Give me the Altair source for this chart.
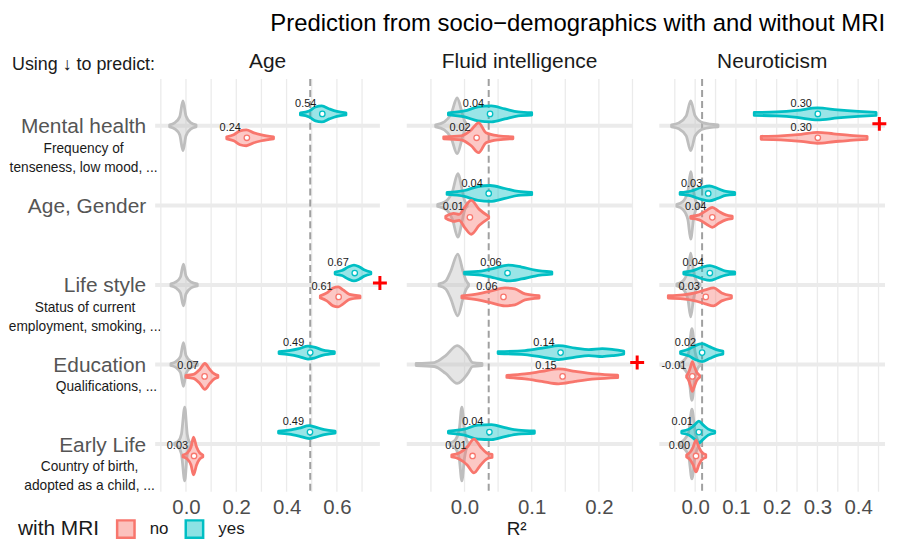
import altair as alt
import pandas as pd

# ---------------- data ----------------
PANELS = ["Age", "Fluid intelligence", "Neuroticism"]
ROWS = ["Mental health", "Age, Gender", "Life style", "Education", "Early Life"]
SUBTITLES = {
    "Mental health": "Frequency of\ntenseness, low mood, ...",
    "Life style": "Status of current\nemployment, smoking, ...",
    "Education": "Qualifications, ...",
    "Early Life": "Country of birth,\nadopted as a child, ...",
}
GROUPS = ["null", "yes", "no"]
GROUP_COLORS = ["#BEBEBE", "#00BFC4", "#F8766D"]
MRI_LEVELS = ["no", "yes"]

# violin profiles: (R2 values, half-height of the violin in px)
AGE_VIOLINS = {
    ("Mental health", "null"): ([-0.065, -0.045, -0.025, -0.012, 0.0, 0.02, 0.04], [1, 3, 9, 25, 10, 3, 1]),
    ("Mental health", "yes"): ([0.455, 0.49, 0.515, 0.54, 0.57, 0.60, 0.636], [1, 3, 7, 8, 5, 2.5, 1]),
    ("Mental health", "no"): ([0.162, 0.19, 0.215, 0.24, 0.27, 0.30, 0.348], [1, 3, 7, 8, 5, 3, 1]),
    ("Life style", "null"): ([-0.06, -0.04, -0.022, -0.01, 0.0, 0.02, 0.045], [1, 3, 8, 21, 9, 3, 1]),
    ("Life style", "yes"): ([0.593, 0.62, 0.645, 0.668, 0.69, 0.71, 0.735], [1, 2.5, 6, 8, 6, 3, 1]),
    ("Life style", "no"): ([0.534, 0.56, 0.585, 0.605, 0.625, 0.65, 0.692], [1, 4, 9, 10, 7, 2.5, 1]),
    ("Education", "null"): ([-0.06, -0.04, -0.022, -0.01, 0.0, 0.02, 0.045], [1, 3, 8, 22, 9, 3, 1]),
    ("Education", "yes"): ([0.37, 0.41, 0.45, 0.485, 0.51, 0.545, 0.59], [1, 2, 4, 6.5, 5.5, 2.5, 1]),
    ("Education", "no"): ([0.0, 0.03, 0.055, 0.075, 0.095, 0.11, 0.127], [1, 2, 7, 13, 7, 3, 1]),
    ("Early Life", "null"): ([-0.045, -0.03, -0.018, -0.005, 0.005, 0.012, 0.02], [1, 3, 10, 37, 10, 3, 1]),
    ("Early Life", "yes"): ([0.368, 0.41, 0.45, 0.49, 0.515, 0.55, 0.593], [1, 2, 4, 6.5, 5, 2.5, 1]),
    ("Early Life", "no"): ([-0.012, 0.005, 0.02, 0.03, 0.042, 0.055, 0.067], [1, 3, 9, 19, 9, 3, 1]),
}
FLUID_VIOLINS = {
    ("Mental health", "null"): ([-0.043, -0.03, -0.02, -0.011, -0.004, 0.0, 0.004], [1, 4, 12, 28, 14, 5, 1]),
    ("Mental health", "yes"): ([-0.024, 0.0, 0.02, 0.04, 0.06, 0.08, 0.10], [1, 3, 7, 8, 5, 2, 1.2]),
    ("Mental health", "no"): ([-0.031, -0.005, 0.01, 0.021, 0.032, 0.05, 0.072], [1, 2, 8, 15, 5, 2, 1]),
    ("Age, Gender", "null"): ([-0.04, -0.028, -0.018, -0.01, -0.003, 0.0, 0.004], [1, 4, 14, 32, 14, 5, 1]),
    ("Age, Gender", "yes"): ([-0.026, 0.0, 0.02, 0.038, 0.06, 0.08, 0.10], [1, 3, 7, 8, 5, 2, 1.2]),
    ("Age, Gender", "no"): ([-0.028, -0.016, -0.008, 0.0, 0.01, 0.022, 0.036], [1, 4, 3, 10, 17, 8, 1]),
    ("Life style", "null"): ([-0.038, -0.028, -0.021, -0.01, -0.002, 0.002, 0.006], [1, 4, 13, 31, 13, 5, 1]),
    ("Life style", "yes"): ([0.0, 0.025, 0.045, 0.065, 0.085, 0.105, 0.13], [1, 2, 5, 8, 6, 3, 1.2]),
    ("Life style", "no"): ([-0.004, 0.02, 0.04, 0.06, 0.075, 0.09, 0.111], [1, 3, 6, 9, 8, 3, 1.2]),
    ("Education", "null"): ([-0.072, -0.045, -0.028, -0.011, 0.005, 0.012, 0.026], [1, 2, 9, 19, 9, 2, 1]),
    ("Education", "yes"): ([0.05, 0.09, 0.12, 0.14, 0.165, 0.185, 0.205, 0.222, 0.237], [1, 2, 5, 7, 4.5, 3, 4, 3, 1.5]),
    ("Education", "no"): ([0.063, 0.09, 0.115, 0.14, 0.165, 0.195, 0.228], [1, 2.5, 5, 7.5, 5, 2.5, 1.2]),
    ("Early Life", "null"): ([-0.022, -0.014, -0.008, -0.004, 0.0, 0.003, 0.006], [1, 4, 14, 37, 14, 4, 1]),
    ("Early Life", "yes"): ([-0.024, 0.0, 0.02, 0.04, 0.06, 0.08, 0.104], [1, 3, 7, 7.5, 4.5, 2, 1.2]),
    ("Early Life", "no"): ([-0.019, -0.008, 0.004, 0.014, 0.024, 0.033, 0.041], [1, 3, 9, 17, 9, 3, 1.5]),
}
NEURO_VIOLINS = {
    ("Mental health", "null"): ([-0.058, -0.04, -0.022, -0.011, 0.0, 0.02, 0.056], [1, 3, 10, 25, 10, 3, 1]),
    ("Mental health", "yes"): ([0.145, 0.20, 0.25, 0.30, 0.35, 0.40, 0.444], [1.5, 2, 3.5, 6, 4, 2.5, 1.5]),
    ("Mental health", "no"): ([0.162, 0.21, 0.26, 0.30, 0.34, 0.38, 0.422], [1.5, 2, 3.5, 5.5, 4, 2.5, 1.5]),
    ("Age, Gender", "null"): ([-0.045, -0.03, -0.018, -0.011, -0.004, 0.002, 0.01], [1, 4, 14, 34, 14, 4, 1]),
    ("Age, Gender", "yes"): ([-0.037, -0.01, 0.015, 0.035, 0.055, 0.075, 0.097], [1, 2.5, 6, 7.5, 5, 2, 1.2]),
    ("Age, Gender", "no"): ([-0.011, 0.01, 0.028, 0.042, 0.058, 0.075, 0.091], [1, 2.5, 7, 10, 6, 2.5, 1.2]),
    ("Life style", "null"): ([-0.045, -0.03, -0.018, -0.011, -0.004, 0.003, 0.012], [1, 4, 14, 32, 14, 4, 1]),
    ("Life style", "yes"): ([-0.028, -0.005, 0.018, 0.036, 0.055, 0.075, 0.097], [1, 2.5, 6, 7.5, 5, 2, 1.2]),
    ("Life style", "no"): ([-0.066, -0.03, 0.0, 0.025, 0.045, 0.065, 0.089], [1.2, 2, 4, 7, 9, 4, 1.2]),
    ("Education", "null"): ([-0.04, -0.028, -0.016, -0.008, 0.0, 0.006, 0.012], [1, 4, 12, 36, 12, 4, 1]),
    ("Education", "yes"): ([-0.036, -0.015, 0.0, 0.017, 0.035, 0.052, 0.068], [1, 3.5, 7, 9, 6, 3, 1.5]),
    ("Education", "no"): ([-0.021, -0.016, -0.011, -0.007, -0.002, 0.004, 0.011], [1, 4, 10, 15, 10, 4, 1]),
    ("Early Life", "null"): ([-0.04, -0.028, -0.016, -0.008, 0.0, 0.006, 0.012], [1, 4, 12, 35, 12, 4, 1]),
    ("Early Life", "yes"): ([-0.033, -0.015, -0.002, 0.009, 0.02, 0.032, 0.048], [1, 3, 7, 11, 7, 3, 1]),
    ("Early Life", "no"): ([-0.021, -0.012, -0.005, 0.002, 0.009, 0.016, 0.026], [1, 4, 9, 16, 9, 4, 1.5]),
}

AGE_MEDIANS = {
    ("Mental health", "yes"): 0.542, ("Mental health", "no"): 0.242,
    ("Life style", "yes"): 0.671, ("Life style", "no"): 0.607,
    ("Education", "yes"): 0.494, ("Education", "no"): 0.074,
    ("Early Life", "yes"): 0.493, ("Early Life", "no"): 0.032,
}
FLUID_MEDIANS = {
    ("Mental health", "yes"): 0.038, ("Mental health", "no"): 0.018,
    ("Age, Gender", "yes"): 0.036, ("Age, Gender", "no"): 0.008,
    ("Life style", "yes"): 0.064, ("Life style", "no"): 0.058,
    ("Education", "yes"): 0.143, ("Education", "no"): 0.146,
    ("Early Life", "yes"): 0.037, ("Early Life", "no"): 0.012,
}
NEURO_MEDIANS = {
    ("Mental health", "yes"): 0.301, ("Mental health", "no"): 0.301,
    ("Age, Gender", "yes"): 0.032, ("Age, Gender", "no"): 0.042,
    ("Life style", "yes"): 0.036, ("Life style", "no"): 0.026,
    ("Education", "yes"): 0.017, ("Education", "no"): -0.007,
    ("Early Life", "yes"): 0.009, ("Early Life", "no"): 0.002,
}

MRI_ONLY = {"Age": 0.494, "Fluid intelligence": 0.036, "Neuroticism": 0.017}
FLAGGED = {"Age": "Life style", "Fluid intelligence": "Education", "Neuroticism": "Mental health"}
FLAG_X = {"Age": 0.771, "Fluid intelligence": 0.257, "Neuroticism": 0.452}
X_DOMAINS = {"Age": [-0.1225, 0.771], "Fluid intelligence": [-0.086, 0.25], "Neuroticism": [-0.088, 0.466]}
GRID = {
    "Age": [-0.1, 0.0, 0.1, 0.2, 0.3, 0.4, 0.5, 0.6, 0.7],
    "Fluid intelligence": [-0.05, 0.0, 0.05, 0.1, 0.15, 0.2, 0.25],
    "Neuroticism": [-0.05, 0.0, 0.05, 0.1, 0.15, 0.2, 0.25, 0.3, 0.35, 0.4, 0.45],
}
TICKS = {
    "Age": [0.0, 0.2, 0.4, 0.6],
    "Fluid intelligence": [0.0, 0.1, 0.2],
    "Neuroticism": [0.0, 0.1, 0.2, 0.3, 0.4],
}
TITLE = "Prediction from socio\u2212demographics with and without MRI"

# ---------------- layout ----------------
PANEL_W = {"Age": 226, "Fluid intelligence": 227, "Neuroticism": 227}
LABEL_W = 121
SPACING = 27
H = 415
Y_DOMAIN = [-0.5875, 4.6]
PX_PER_ROW = 80.0
OFFSET = {"null": 0.0, "yes": -0.15, "no": 0.15}
SUB_X = {"Mental health": 76, "Life style": 77.5, "Education": 99, "Early Life": 82}
LEGEND_Y = 452.5
TITLE_Y = -48
FONT = "Liberation Sans"
PLUS = "M-1,0L1,0M0,-1L0,1"

cscale = alt.Scale(domain=GROUPS, range=GROUP_COLORS)
yscale = alt.Scale(domain=Y_DOMAIN, reverse=True, nice=False, zero=False)


def panel(name, violins, medians):
    W = PANEL_W[name]
    xs = alt.Scale(domain=X_DOMAINS[name], nice=False, zero=False)
    xaxis = alt.Axis(values=TICKS[name], format=".1f", grid=False, ticks=False, tickSize=0,
                     domain=False, labelFontSize=20.5, labelColor="#4d4d4d", labelPadding=6,
                     title=None, labelFlush=False, labelFont=FONT)

    def X(f):
        return alt.X(f, scale=xs, axis=xaxis, title=None)

    def Y(f):
        return alt.Y(f, scale=yscale, axis=None)

    recs = []
    for (row, grp), (vals, ws) in violins.items():
        c = ROWS.index(row) + OFFSET[grp]
        for v, w in zip(vals, ws):
            recs.append({"vid": row + "|" + grp, "grp": grp, "v": v,
                         "lo": c - w / PX_PER_ROW, "hi": c + w / PX_PER_ROW})
    vdf = pd.DataFrame(recs)

    mrec = []
    for (row, grp), m in medians.items():
        mrec.append({"grp": grp, "v": m, "c": ROWS.index(row) + OFFSET[grp], "label": f"{m:.2f}"})
    mdf = pd.DataFrame(mrec)

    layers = []
    layers.append(alt.Chart(pd.DataFrame({"g": GRID[name]})).mark_rule(
        color="#ebebeb", strokeWidth=1.3).encode(x=X("g:Q")))
    layers.append(alt.Chart(pd.DataFrame({"r": list(range(len(ROWS)))})).mark_rule(
        color="#ebebeb", strokeWidth=4).encode(y=Y("r:Q")))
    layers.append(alt.Chart(pd.DataFrame({"m": [MRI_ONLY[name]]})).mark_rule(
        color="#a0a0a0", strokeWidth=2, strokeDash=[7, 4]).encode(x=X("m:Q")))
    for g in GROUPS:
        sub = vdf[vdf.grp == g]
        layers.append(alt.Chart(sub).mark_area(
            orient="vertical", interpolate="monotone", fillOpacity=0.4, strokeWidth=2.8,
            strokeJoin="round", strokeOpacity=1).encode(
            x=X("v:Q"), y=Y("lo:Q"), y2="hi:Q", detail="vid:N",
            fill=alt.Fill("grp:N", scale=cscale, legend=None),
            stroke=alt.Stroke("grp:N", scale=cscale, legend=None)))
    layers.append(alt.Chart(mdf).mark_point(
        shape="circle", filled=False, fill="white", fillOpacity=1, opacity=1,
        size=30, strokeWidth=1.3).encode(
        x=X("v:Q"), y=Y("c:Q"), stroke=alt.Stroke("grp:N", scale=cscale, legend=None)))
    layers.append(alt.Chart(mdf).mark_text(
        align="right", baseline="middle", dx=-6, dy=-10, fontSize=11, color="#1a1a1a",
        font=FONT).encode(x=X("v:Q"), y=Y("c:Q"), text="label:N"))
    layers.append(alt.Chart(pd.DataFrame({"v": [FLAG_X[name]],
                                          "r": [ROWS.index(FLAGGED[name]) - 0.025]})).mark_point(
        shape=PLUS, filled=False, strokeWidth=3, size=196, color="#FF0000", opacity=1).encode(
        x=X("v:Q"), y=Y("r:Q")))
    layers.append(alt.Chart(pd.DataFrame({"t": [name]})).mark_text(
        fontSize=21, color="#1a1a1a", baseline="alphabetic", align="center", font=FONT).encode(
        x=alt.value(W / 2), y=alt.value(-11), text="t:N"))
    if name == "Fluid intelligence":
        layers.append(alt.Chart(pd.DataFrame({"t": ["R\u00b2"]})).mark_text(
            fontSize=19, color="#1a1a1a", baseline="middle", align="center", font=FONT).encode(
            x=alt.value(W / 2 - 3), y=alt.value(LEGEND_Y), text="t:N"))
    if name == "Neuroticism":
        layers.append(alt.Chart(pd.DataFrame({"t": [TITLE]})).mark_text(
            fontSize=24, color="#000000", baseline="alphabetic", align="right", font=FONT).encode(
            x=alt.value(W), y=alt.value(TITLE_Y), text="t:N"))
    return alt.layer(*layers).properties(width=W, height=H)


# ---------------- label column ----------------
lab_layers = []
lab_layers.append(alt.Chart(pd.DataFrame({"name": ROWS, "r": list(range(len(ROWS)))})).mark_text(
    align="right", baseline="alphabetic", fontSize=21, color="#555555", dy=7.5, font=FONT).encode(
    x=alt.value(139), y=alt.Y("r:Q", scale=yscale, axis=None), text="name:N"))
for row, sub in SUBTITLES.items():
    lab_layers.append(alt.Chart(pd.DataFrame({"t": [sub], "r": [ROWS.index(row)]})).mark_text(
        align="center", baseline="alphabetic", fontSize=13.8, lineBreak="\n", lineHeight=19,
        dy=27, color="#1a1a1a", font=FONT).encode(
        x=alt.value(SUB_X[row]), y=alt.Y("r:Q", scale=yscale, axis=None), text="t:N"))
lab_layers.append(alt.Chart(pd.DataFrame({"t": ["Using \u2193 to predict:"]})).mark_text(
    align="left", baseline="alphabetic", fontSize=18, color="#1a1a1a", font=FONT).encode(
    x=alt.value(4), y=alt.value(-9.5), text="t:N"))
lab_layers.append(alt.Chart(pd.DataFrame({"t": ["with MRI"]})).mark_text(
    align="left", baseline="middle", fontSize=21, color="#1a1a1a", font=FONT).encode(
    x=alt.value(10), y=alt.value(LEGEND_Y), text="t:N"))
legx = alt.X("mri:N", scale=alt.Scale(type="point", domain=MRI_LEVELS, range=[118.5, 187.5], padding=0),
             axis=None)
lab_layers.append(alt.Chart(pd.DataFrame({"mri": MRI_LEVELS})).mark_square(
    size=306, strokeWidth=2.5, fillOpacity=0.45, strokeOpacity=1).encode(
    x=legx, y=alt.value(LEGEND_Y),
    fill=alt.Fill("mri:N", scale=cscale, legend=None),
    stroke=alt.Stroke("mri:N", scale=cscale, legend=None)))
lab_layers.append(alt.Chart(pd.DataFrame({"mri": MRI_LEVELS})).mark_text(
    align="left", baseline="middle", dx=24, fontSize=17, color="#1a1a1a", font=FONT).encode(
    x=legx, y=alt.value(LEGEND_Y), text="mri:N"))
labels = alt.layer(*lab_layers).properties(width=LABEL_W, height=H)

chart = alt.hconcat(
    labels,
    panel("Age", AGE_VIOLINS, AGE_MEDIANS),
    panel("Fluid intelligence", FLUID_VIOLINS, FLUID_MEDIANS),
    panel("Neuroticism", NEURO_VIOLINS, NEURO_MEDIANS),
    spacing=SPACING, bounds="flush",
).properties(padding={"top": 3, "left": 0, "right": 0, "bottom": 0}).configure(
    font=FONT, view=alt.ViewConfig(stroke=None))

chart.save("out.html", embed_options={"renderer": "svg", "actions": False})
